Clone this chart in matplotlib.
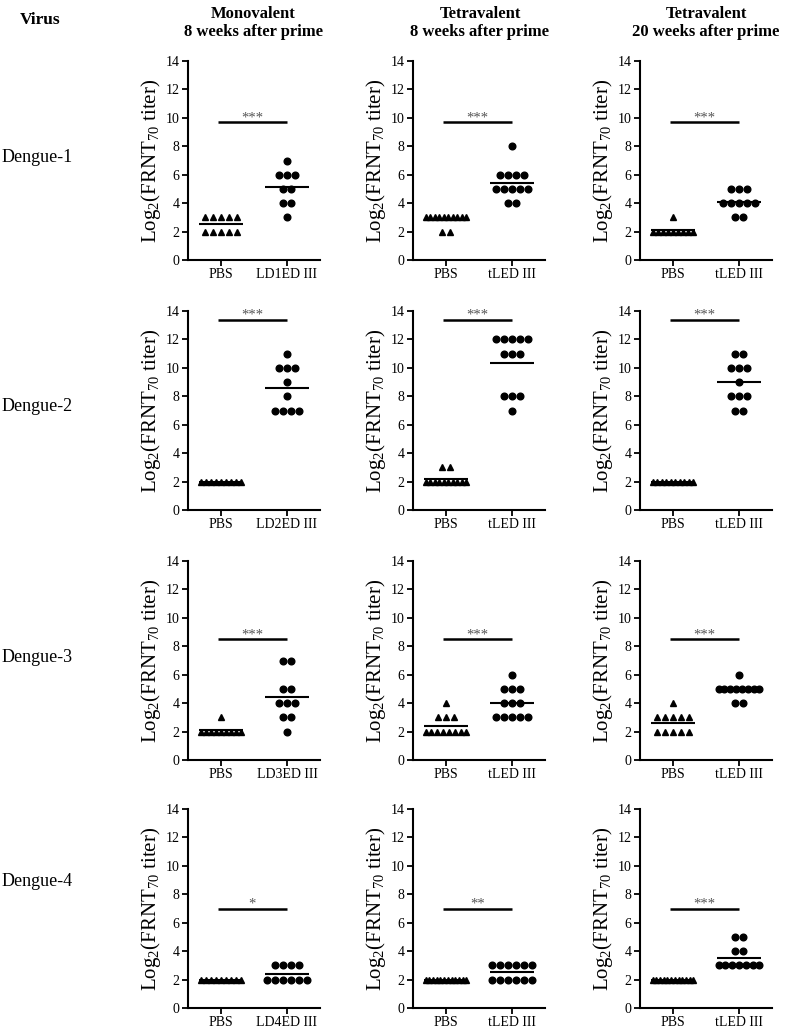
import numpy as np
import matplotlib
matplotlib.use("Agg")
import matplotlib.pyplot as plt

plt.rcParams['font.family'] = ['Liberation Serif', 'DejaVu Serif']
plt.rcParams['mathtext.fontset'] = 'custom'
plt.rcParams['mathtext.rm'] = 'Liberation Serif'
plt.rcParams['mathtext.it'] = 'Liberation Serif:italic'
plt.rcParams['mathtext.bf'] = 'Liberation Serif:bold'

viruses = ["Dengue-1", "Dengue-2", "Dengue-3", "Dengue-4"]
col_titles = ["Monovalent\n8 weeks after prime",
              "Tetravalent\n8 weeks after prime",
              "Tetravalent\n20 weeks after prime"]
vaccine_labels = [["LD1ED III", "tLED III", "tLED III"],
                  ["LD2ED III", "tLED III", "tLED III"],
                  ["LD3ED III", "tLED III", "tLED III"],
                  ["LD4ED III", "tLED III", "tLED III"]]

# PBS group values (log2 FRNT70 titer)
pbs_values = [
    [[3]*5 + [2]*5, [3]*10 + [2]*2, [3] + [2]*9],
    [[2]*9, [3]*2 + [2]*10, [2]*10],
    [[3] + [2]*9, [4] + [3]*3 + [2]*8, [4] + [3]*5 + [2]*5],
    [[2]*9, [2]*12, [2]*12],
]
# vaccine group values
vac_values = [
    [[7, 6, 6, 6, 5, 5, 4, 4, 3],
     [8, 6, 6, 6, 6, 5, 5, 5, 5, 5, 4, 4],
     [5, 5, 5, 4, 4, 4, 4, 4, 3, 3]],
    [[11, 10, 10, 10, 9, 8, 7, 7, 7, 7],
     [12, 12, 12, 12, 12, 11, 11, 11, 8, 8, 8, 7],
     [11, 11, 10, 10, 10, 9, 8, 8, 8, 7, 7]],
    [[7, 7, 5, 5, 4, 4, 4, 3, 3, 2],
     [6, 5, 5, 5, 4, 4, 4, 3, 3, 3, 3, 3],
     [6, 5, 5, 5, 5, 5, 5, 5, 5, 4, 4]],
    [[3, 3, 3, 3, 2, 2, 2, 2, 2, 2],
     [3, 3, 3, 3, 3, 3, 2, 2, 2, 2, 2, 2],
     [5, 5, 4, 4, 3, 3, 3, 3, 3, 3, 3]],
]
sig_labels = [["***", "***", "***"],
              ["***", "***", "***"],
              ["***", "***", "***"],
              ["*", "**", "***"]]
sig_heights = [9.7, 13.4, 8.5, 7.0]

W, H = 787, 1028
fig = plt.figure(figsize=(W/100, H/100), dpi=100)

col_left = [188, 413, 640]
ax_w = 132
row_top = [61, 311, 561, 809]
ax_h = 199


def spread(vals, center):
    vals = np.asarray(vals, dtype=float)
    xs = np.zeros_like(vals)
    for v in np.unique(vals):
        idx = np.where(vals == v)[0]
        k = len(idx)
        sp = 0.12 if k < 2 else min(0.12, 0.62 / (k - 1))
        xs[idx] = center + (np.arange(k) - (k - 1) / 2) * sp
    return xs, vals


for r in range(4):
    for c in range(3):
        ax = fig.add_axes([col_left[c]/W, 1 - (row_top[r] + ax_h)/H, ax_w/W, ax_h/H])
        p = pbs_values[r][c]
        v = vac_values[r][c]
        xs, ys = spread(p, 0)
        ax.plot(xs, ys, linestyle='none', marker='^', markersize=4.8, color='black')
        xs, ys = spread(v, 1)
        ax.plot(xs, ys, linestyle='none', marker='o', markersize=4.8, color='black')
        ax.hlines(np.mean(p), -0.33, 0.33, color='black', lw=1.5)
        ax.hlines(np.mean(v), 1 - 0.33, 1 + 0.33, color='black', lw=1.5)
        h = sig_heights[r]
        ax.hlines(h, -0.05, 1.0, color='black', lw=1.8)
        ax.text(0.475, h - 0.15, sig_labels[r][c], ha='center', va='bottom',
                fontsize=10.5, color='#555555')
        ax.set_xlim(-0.5, 1.5)
        ax.set_ylim(0, 14)
        ax.set_yticks(range(0, 15, 2))
        ax.set_xticks([0, 1])
        ax.set_xticklabels(["PBS", vaccine_labels[r][c]])
        for s in ['top', 'right']:
            ax.spines[s].set_visible(False)
        for s in ['left', 'bottom']:
            ax.spines[s].set_linewidth(1.5)
        ax.tick_params(direction='out', length=4, width=1.3, labelsize=10, pad=2)
        ax.patch.set_alpha(0)
        ax.set_ylabel(r"Log$_2$(FRNT$_{70}$ titer)", fontsize=15, labelpad=2)

# Column titles
col_centers = [253, 480, 706]
for c in range(3):
    fig.text(col_centers[c]/W, 1 - 23/H, col_titles[c], ha='center', va='center',
             fontsize=12, fontweight='bold', linespacing=1.15)
fig.text(20/W, 1 - 20/H, "Virus", ha='left', va='center', fontsize=12.5, fontweight='bold')

row_label_y = [157, 407, 657, 881]
for r in range(4):
    fig.text(2/W, 1 - row_label_y[r]/H, viruses[r], ha='left', va='center', fontsize=13)

fig.savefig("out.png", dpi=100)
